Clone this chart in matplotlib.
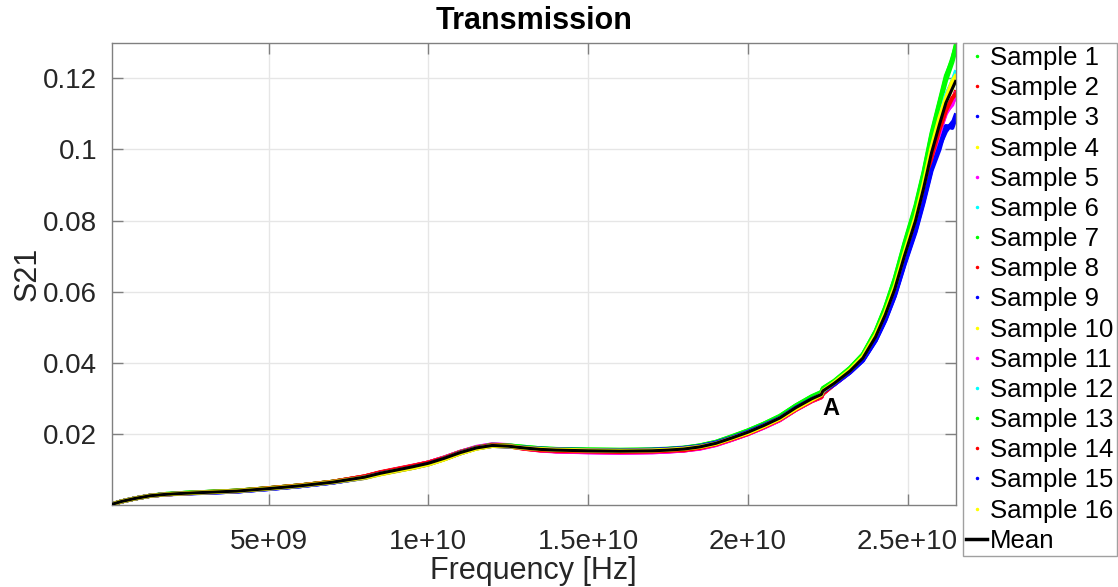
import matplotlib
matplotlib.use("Agg")
import matplotlib.pyplot as plt
from matplotlib.lines import Line2D
import numpy as np

plt.rcParams["font.family"] = ["Liberation Sans", "DejaVu Sans"]

# Frequency grid (GHz) and mean transmission |S21|
freq_ghz = [0.1, 0.4, 0.8, 1.3, 1.8, 2.4, 3.2, 4.0, 5.0, 6.0, 7.0,
            8.0, 8.5, 9.0, 9.5, 10.0, 10.5, 11.0, 11.5,
            12.0, 12.5,
            13.0, 13.5, 14.0, 15.0, 16.0, 17.0, 17.5, 18.0, 18.5,
            19.0, 19.5, 20.0, 20.5, 21.0, 21.5, 22.0,
            22.3, 22.35,
            22.7, 23.2, 23.6, 24.0, 24.3, 24.6, 24.9,
            25.25, 25.5, 25.75, 26.0, 26.2, 26.4, 26.5]

s21_mean = [0.0004, 0.0012, 0.0020, 0.0028, 0.0032, 0.0035, 0.0038, 0.0041, 0.0048, 0.0056, 0.0066,
            0.0080, 0.0091, 0.0100, 0.0109, 0.0119, 0.0133, 0.0149, 0.0162,
            0.0169, 0.0167,
            0.0162, 0.0158, 0.0156, 0.0154, 0.0153, 0.0154, 0.0156, 0.0159, 0.0165,
            0.0175, 0.0190, 0.0206, 0.0225, 0.0246, 0.0275, 0.0300,
            0.0312, 0.0322,
            0.0343, 0.0378, 0.0414, 0.0474, 0.0535, 0.0608, 0.0700,
            0.0800, 0.0890, 0.0990, 0.1070, 0.1130, 0.1170, 0.1190]

# Per-sample deviation from the mean, in units of 1e-4
off01 = [0, 0, 0, 0, 1, 1, 1, 1, 1, 1, 1,  1, 1, 1, 0, 0, 0, 1, 1,  2, 2,
         3, 3, 3, 3, 3, 3, 3, 3, 4,  4, 4, 5, 5, 5, 6, 6,  6, 7,
         6, 8, 10, 15, 20, 28, 33,  38, 42, 50, 60, 70, 85, 95]
off02 = [0, 0, 0, 0, 0, 0, 0, 1, 1, 1, 1,  2, 2, 2, 2, 2, 2, 2, 1,  1, 0,
         -2, -3, -3, -3, -3, -3, -3, -3, -3,  -3, -4, -4, -5, -5, -6, -6,  -7, -8,
         -3, -2, -2, -3, -4, -5, -6,  -8, -10, -14, -18, -25, -30, -40]
off03 = [0, 0, 0, 0, 0, 0, -1, -1, -1, -1, -1,  -1, -2, -2, -2, -2, -2, -2, -1,  -1, 0,
         1, 2, 2, 2, 2, 2, 2, 2, 2,  1, 1, 1, 0, 0, -1, -1,  -2, -3,
         -3, -4, -6, -10, -14, -18, -22,  -28, -35, -45, -60, -80, -95, -110]
off04 = [0, 0, 0, 0, 0, 0, 0, 0, 0, 0, 0,  -2, -2, -3, -3, -3, -3, -2, -2,  -1, -1,
         0, 1, 1, 1, 1, 1, 1, 0, 0,  -1, -2, -2, -3, -3, -3, -2,  -1, 0,
         2, 3, 3, 4, 5, 6, 7,  8, 10, 12, 15, 10, 12, 10]
off05 = [0, 0, 0, 0, 0, 0, 0, 0, 0, 0, 0,  1, 1, 1, 1, 2, 2, 2, 2,  3, 3,
         -1, -3, -4, -4, -4, -4, -4, -4, -4,  -4, -4, -5, -5, -5, -5, -6,  -6, -5,
         -2, -2, -3, -3, -4, -5, -6,  -8, -10, -14, -20, -30, -40, -45]
off06 = [0, 0, 0, 0, 0, 0, 0, 0, 0, 0, 0,  0, 0, 0, 0, 0, 0, 0, 0,  0, 0,
         1, 1, 1, 1, 1, 1, 1, 1, 1,  1, 2, 2, 2, 2, 2, 2,  2, 2,
         2, 2, 3, 4, 5, 6, 8,  10, 12, 14, 16, 18, 20, 22]
off07 = [0, 0, 0, 0, 0, 1, 1, 1, 1, 1, 1,  1, 1, 0, 0, 0, 0, 0, 1,  1, 2,
         2, 2, 2, 2, 2, 2, 2, 3, 3,  3, 3, 4, 4, 4, 5, 5,  5, 6,
         5, 7, 9, 13, 17, 24, 28,  32, 38, 44, 55, 62, 74, 88]
off08 = [0, 0, 0, 0, 0, 0, 1, 1, 1, 1, 1,  2, 3, 3, 3, 2, 2, 2, 1,  0, 0,
         -2, -2, -3, -3, -3, -3, -3, -4, -4,  -4, -5, -5, -5, -6, -6, -7,  -8, -7,
         -2, -2, -2, -2, -3, -4, -5,  -6, -12, -10, -22, -20, -35, -30]
off09 = [0, 0, 0, 0, 0, -1, -1, -1, -1, -1, -1,  -2, -2, -2, -3, -3, -2, -2, -1,  0, 0,
         1, 1, 2, 2, 2, 2, 2, 1, 1,  1, 0, 0, 0, -1, -1, -2,  -2, -2,
         -2, -3, -5, -8, -12, -15, -18,  -22, -30, -40, -55, -70, -100, -95]
off10 = [0, 0, 0, 0, 0, 0, 0, 0, 0, 0, 0,  -2, -3, -3, -3, -3, -2, -2, -1,  -1, -1,
         0, 0, 1, 1, 1, 1, 0, 0, -1,  -2, -2, -3, -3, -4, -3, -3,  -2, -1,
         1, 2, 3, 3, 4, 5, 6,  5, 8, 4, 10, 6, 2, 5]
off11 = [0, 0, 0, 0, 0, 0, 0, 0, 0, 0, 0,  1, 1, 2, 2, 2, 2, 2, 3,  3, 2,
         -1, -2, -3, -4, -4, -4, -4, -4, -5,  -5, -5, -5, -6, -6, -6, -6,  -7, -6,
         -3, -3, -3, -4, -5, -6, -8,  -10, -15, -12, -25, -25, -45, -35]
off12 = [0, 0, 0, 0, 0, 0, 0, 0, 0, 0, 0,  0, 0, 0, 0, 0, 1, 1, 1,  1, 1,
         1, 1, 1, 1, 2, 2, 2, 2, 2,  2, 2, 2, 3, 3, 3, 3,  3, 3,
         3, 3, 4, 5, 6, 8, 10,  12, 10, 18, 14, 22, 18, 26]
off13 = [0, 0, 0, 0, 1, 1, 1, 1, 1, 1, 1,  0, 0, 0, 0, 0, 0, 1, 1,  2, 2,
         3, 3, 3, 4, 4, 4, 4, 4, 4,  4, 5, 5, 5, 6, 6, 7,  7, 8,
         7, 9, 11, 16, 22, 30, 36,  42, 46, 55, 64, 76, 80, 100]
off14 = [0, 0, 0, 0, 0, 0, 0, 0, 1, 1, 1,  2, 2, 2, 2, 2, 1, 1, 1,  1, 1,
         -1, -2, -2, -2, -2, -2, -2, -3, -3,  -3, -3, -4, -4, -4, -5, -5,  -6, -7,
         -2, -1, -1, -2, -3, -4, -4,  -5, -8, -12, -14, -22, -26, -36]
off15 = [0, 0, 0, 0, 0, 0, -1, -1, -1, -1, -1,  -1, -1, -2, -2, -2, -2, -1, -1,  -1, -1,
         1, 2, 2, 2, 2, 3, 3, 3, 2,  2, 1, 1, 1, 0, 0, -1,  -1, -2,
         -3, -4, -7, -11, -16, -20, -25,  -32, -40, -50, -70, -65, -110, -105]
off16 = [0, 0, 0, 0, 0, 0, 0, 0, 0, 0, 0,  -1, -2, -2, -3, -3, -3, -2, -2,  -1, 0,
         0, 1, 1, 1, 1, 1, 1, 1, 0,  -1, -1, -2, -2, -2, -3, -3,  -1, 0,
         2, 3, 4, 5, 6, 7, 8,  10, 12, 15, 18, 14, 20, 15]

sample_offsets = [off01, off02, off03, off04, off05, off06, off07, off08,
                  off09, off10, off11, off12, off13, off14, off15, off16]
sample_labels = [f"Sample {i}" for i in range(1, 17)]
color_cycle = ["#00ff00", "#ff0000", "#0000ff", "#ffff00", "#ff00ff", "#00ffff"]
sample_colors = [color_cycle[i % 6] for i in range(16)]

x_ticks = [5e9, 1e10, 1.5e10, 2e10, 2.5e10]
x_tick_labels = ["5e+09", "1e+10", "1.5e+10", "2e+10", "2.5e+10"]
y_ticks = [0.02, 0.04, 0.06, 0.08, 0.10, 0.12]
y_tick_labels = ["0.02", "0.04", "0.06", "0.08", "0.1", "0.12"]

W, H = 1118, 587
fig = plt.figure(figsize=(W / 100, H / 100), dpi=100)
ax = fig.add_axes([112 / W, 1 - 505 / H, (955.5 - 112) / W, (505 - 43) / H])

freq = np.array(freq_ghz) * 1e9
mean = np.array(s21_mean)
for off, color in zip(sample_offsets, sample_colors):
    ax.plot(freq, mean + np.array(off) * 1e-4, color=color, lw=3.0,
            solid_joinstyle="round", zorder=2)
ax.plot(freq, mean, color="black", lw=2.2, zorder=3)

ax.text(22.6e9, 0.0274, "A", fontsize=17, fontweight="bold",
        ha="center", va="center", zorder=4)

ax.set_xlim(1e8, 26.5e9)
ax.set_ylim(0.0002, 0.1298)
ax.set_xticks(x_ticks)
ax.set_xticklabels(x_tick_labels)
ax.set_yticks(y_ticks)
ax.set_yticklabels(y_tick_labels)

axis_gray = "#808080"
ax.tick_params(direction="in", length=8, width=1, color=axis_gray,
               top=True, right=True, labelsize=20, labelcolor="#262626")
ax.tick_params(axis="x", pad=17)
ax.tick_params(axis="y", pad=10.8)
for sp in ax.spines.values():
    sp.set_color(axis_gray)
    sp.set_linewidth(1)
ax.grid(True, color="#e6e6e6", lw=1)
ax.set_axisbelow(True)

ax.set_xlabel("Frequency [Hz]", fontsize=22, color="#262626")
ax.xaxis.set_label_coords(0.5, (505 - 571) / 462)
ax.xaxis.label.set_va("center")
ax.set_ylabel("S21", fontsize=22, color="#262626")
ax.yaxis.set_label_coords((28 - 112) / 843.5, 0.5)
ax.yaxis.label.set_va("center")
ax.set_title("Transmission", fontsize=22, fontweight="bold",
             y=1 + (43 - 21) / 462, va="center", pad=0)

handles = [Line2D([], [], ls="none", marker=".", ms=3, color=c) for c in sample_colors]
handles.append(Line2D([], [], color="black", lw=2.5))
leg = ax.legend(handles, sample_labels + ["Mean"], loc="upper left",
                bbox_to_anchor=(963 / W, 1 - 43 / H), bbox_transform=fig.transFigure,
                borderaxespad=0, fontsize=18.5, labelspacing=0.24,
                handlelength=0.82, handletextpad=0.12, borderpad=0.12,
                frameon=True, fancybox=False, edgecolor="#a0a0a0", framealpha=1)
leg.get_frame().set_linewidth(1.0)

fig.savefig("out.png", dpi=100)
